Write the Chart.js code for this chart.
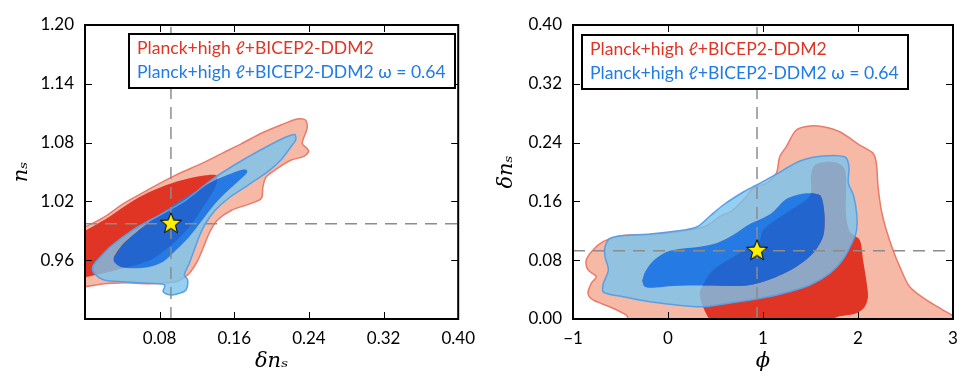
<!DOCTYPE html>
<html>
<head>
<meta charset="utf-8">
<script src="https://cdn.jsdelivr.net/npm/chart.js@4.4.0/dist/chart.umd.min.js"></script>
<style>
  html, body { margin: 0; padding: 0; background: #fff; }
  #wrap { position: relative; width: 969px; height: 382px; }
  .panel { position: absolute; top: 0; height: 382px; }
</style>
</head>
<body>
<div id="wrap">
  <div class="panel" style="left:0;width:484px"><canvas id="leftPanel" width="484" height="382"></canvas></div>
  <div class="panel" style="left:484px;width:485px"><canvas id="rightPanel" width="485" height="382"></canvas></div>
</div>
<script>
// ---- legend text ----
const legendLabels = ['Planck+high \u2113+BICEP2-DDM2', 'Planck+high \u2113+BICEP2-DDM2 \u03c9 = 0.64'];

// ---- left panel: delta n_s (x) vs n_s (y) ----
const dnsTicksL = [0, 0.08, 0.16, 0.24, 0.32, 0.40];
const dnsLabelsL = ['', '0.08', '0.16', '0.24', '0.32', '0.40'];
const nsTicks = [0.90, 0.96, 1.02, 1.08, 1.14, 1.20];
const nsLabels = ['', '0.96', '1.02', '1.08', '1.14', '1.20'];
const bestL = [0.0921, 0.9972];

const nsRedOuter = [
  [-0.01, 0.989], [0.0205, 1.004], [0.0416, 1.018], [0.0697, 1.033], [0.0977, 1.047],
  [0.1258, 1.059], [0.1468, 1.069], [0.1679, 1.079], [0.1889, 1.0895], [0.21, 1.098],
  [0.2276, 1.104], [0.2363, 1.103], [0.2381, 1.095], [0.2328, 1.079], [0.2381, 1.074],
  [0.2398, 1.071], [0.2345, 1.066], [0.2205, 1.062], [0.2065, 1.054], [0.1942, 1.045],
  [0.1907, 1.035], [0.1889, 1.023], [0.175, 1.017], [0.157, 1.011], [0.142, 1.001],
  [0.1338, 0.989], [0.1268, 0.973], [0.1199, 0.958], [0.1111, 0.946], [0.1005, 0.939],
  [0.0942, 0.9375], [0.0697, 0.936], [0.0416, 0.937], [0.0205, 0.936], [-0.01, 0.935]
];
const nsRedInner = [
  [-0.01, 0.985], [0.0205, 1.001], [0.0416, 1.0146], [0.0626, 1.0265], [0.0872, 1.0367],
  [0.1118, 1.0436], [0.1328, 1.0469], [0.1416, 1.0459], [0.1398, 1.035], [0.1293, 1.018],
  [0.1118, 0.994], [0.0907, 0.974], [0.0697, 0.960], [0.0416, 0.952], [0.0205, 0.947],
  [-0.01, 0.944]
];
const nsBlueOuter = [
  [0.0135, 0.9602], [0.0268, 0.9735], [0.0511, 0.9908], [0.0763, 1.0041], [0.1079, 1.0214],
  [0.1353, 1.0418], [0.1637, 1.0592], [0.1921, 1.0745], [0.2132, 1.0847], [0.2247, 1.0883],
  [0.2258, 1.0827], [0.2205, 1.0755], [0.21, 1.0622], [0.196, 1.0503], [0.1749, 1.0367],
  [0.1539, 1.0232], [0.1398, 1.0112], [0.1293, 0.9977], [0.1223, 0.984], [0.1171, 0.9704],
  [0.1118, 0.9568], [0.1065, 0.9449], [0.11, 0.9398], [0.1082, 0.9296], [0.1013, 0.9262],
  [0.0924, 0.9245], [0.0837, 0.9279], [0.0855, 0.9347], [0.0697, 0.9364], [0.0416, 0.9381],
  [0.0205, 0.9398], [0.01, 0.9466], [0.0082, 0.9534]
];
const nsBlueInner = [
  [0.0311, 0.9635], [0.0416, 0.9772], [0.0626, 0.9942], [0.0872, 1.0112], [0.1153, 1.0283],
  [0.1398, 1.0418], [0.1574, 1.0487], [0.1714, 1.0528], [0.1742, 1.0503], [0.1679, 1.0436],
  [0.1539, 1.0316], [0.1398, 1.0181], [0.1258, 1.001], [0.1118, 0.984], [0.0977, 0.9704],
  [0.0837, 0.9585], [0.0697, 0.9534], [0.0521, 0.9517], [0.0381, 0.9534], [0.0311, 0.9585]
];

// ---- right panel: phi (x) vs delta n_s (y) ----
const phiTicks = [-1, 0, 1, 2, 3];
const phiLabels = ['\u22121', '0', '1', '2', '3'];
const dnsTicksR = [0, 0.08, 0.16, 0.24, 0.32, 0.40];
const dnsLabelsR = ['0.00', '0.08', '0.16', '0.24', '0.32', '0.40'];
const bestR = [0.937, 0.0929];

const phiRedOuter = [
  [-0.42, -0.01], [-0.421, 0.0], [-0.439, 0.0054], [-0.614, 0.0167], [-0.789, 0.0259],
  [-0.842, 0.035], [-0.807, 0.0486], [-0.755, 0.0576], [-0.842, 0.0667], [-0.86, 0.0803],
  [-0.789, 0.0939], [-0.684, 0.1052], [-0.544, 0.112], [-0.403, 0.1143], [-0.228, 0.1143],
  [-0.018, 0.1166], [0.228, 0.1211], [0.403, 0.1265], [0.544, 0.1392], [0.684, 0.1483],
  [0.824, 0.1664], [0.895, 0.1778], [1.035, 0.1846], [1.14, 0.1982], [1.176, 0.2208],
  [1.245, 0.2344], [1.351, 0.2571], [1.492, 0.2626], [1.632, 0.2616], [1.807, 0.2548],
  [2.018, 0.2367], [2.158, 0.2254], [2.193, 0.2118], [2.211, 0.18], [2.245, 0.1483],
  [2.298, 0.1211], [2.368, 0.0939], [2.439, 0.0712], [2.544, 0.0439], [2.719, 0.0259],
  [2.895, 0.0122], [3.0, 0.004], [3.07, -0.01]
];
const phiRedInner = [
  [0.474, -0.01], [0.368, 0.0167], [0.334, 0.0354], [0.368, 0.0463], [0.474, 0.0667],
  [0.755, 0.0898], [0.965, 0.1075], [1.0, 0.1211], [1.242, 0.1442], [1.453, 0.1619],
  [1.505, 0.1714], [1.505, 0.1959], [1.547, 0.2095], [1.653, 0.2136], [1.789, 0.2122],
  [1.863, 0.2027], [1.874, 0.1755], [1.874, 0.1415], [1.916, 0.1184], [2.018, 0.1075],
  [2.053, 0.0803], [2.087, 0.0531], [2.105, 0.0303], [2.071, 0.0167], [1.982, 0.0078],
  [1.772, 0.0023], [1.6, -0.01]
];
const phiBlueOuter = [
  [-0.681, 0.0486], [-0.628, 0.0667], [-0.663, 0.0848], [-0.663, 0.0984], [-0.611, 0.1098],
  [-0.471, 0.1136], [-0.189, 0.1156], [0.092, 0.1197], [0.302, 0.1252], [0.442, 0.1401],
  [0.582, 0.1551], [0.793, 0.1728], [0.934, 0.1823], [1.144, 0.1973], [1.389, 0.215],
  [1.635, 0.2218], [1.863, 0.2204], [1.905, 0.2068], [1.898, 0.185], [1.951, 0.1687],
  [1.986, 0.1438], [1.986, 0.1211], [1.951, 0.1075], [1.845, 0.0816], [1.705, 0.0622],
  [1.495, 0.0463], [1.214, 0.035], [0.934, 0.0272], [0.653, 0.0218], [0.372, 0.0167],
  [0.092, 0.019], [-0.189, 0.0235], [-0.471, 0.0303], [-0.681, 0.0367]
];
const phiBlueInner = [
  [-0.274, 0.0517], [-0.242, 0.0639], [-0.158, 0.0789], [-0.018, 0.0912], [0.158, 0.0959],
  [0.334, 0.0984], [0.508, 0.103], [0.684, 0.1143], [0.86, 0.1293], [1.0, 0.1374],
  [1.105, 0.1456], [1.245, 0.1633], [1.456, 0.171], [1.597, 0.1687], [1.632, 0.1574],
  [1.649, 0.1347], [1.632, 0.112], [1.526, 0.0894], [1.351, 0.0712], [1.105, 0.0554],
  [0.895, 0.0469], [0.755, 0.0449], [0.403, 0.0456], [0.053, 0.0449], [-0.123, 0.0429],
  [-0.242, 0.0435]
];

// ---- colours ----
const RED_OUT = '#F5B9A6';
const RED_LINE = '#EB7A6C';
const RED_IN = '#E03424';
const BLUE_OUT = 'rgba(120,196,238,0.8)';
const BLUE_LINE = '#5A9FE6';
const BLUE_IN = 'rgba(0,111,237,0.85)';
const DASH = '#8C8C8C';
const legendColors = ['#E03424', '#1F7BE6'];

const toPts = arr => arr.map(([x, y]) => ({ x, y }));
const closeLoop = arr => arr.concat([arr[0]]);
// outer contour with the inner region cut out, so the 68% fill is not stacked on the 95% fill
const ring = (outer, inner) => closeLoop(outer).concat(closeLoop(inner.slice().reverse()));

function makeStar(size) {
  const c = document.createElement('canvas');
  c.width = c.height = size;
  const g = c.getContext('2d');
  const R = 11, r = R * 0.42, cx = size / 2, cy = size / 2;
  g.beginPath();
  for (let i = 0; i < 10; i++) {
    const a = -Math.PI / 2 + i * Math.PI / 5;
    const rr = i % 2 ? r : R;
    g.lineTo(cx + rr * Math.cos(a), cy + rr * Math.sin(a));
  }
  g.closePath();
  g.fillStyle = '#FFF000';
  g.fill();
  g.lineWidth = 1;
  g.strokeStyle = '#000';
  g.stroke();
  return c;
}
const starImg = makeStar(26);

// frame, inward ticks on all four sides, and the boxed legend
const frameAndLegend = {
  id: 'frameAndLegend',
  afterDatasetsDraw(chart, args, opts) {
    const { ctx, chartArea: a, scales: { x, y } } = chart;
    ctx.save();
    ctx.strokeStyle = '#000';
    ctx.lineWidth = 1;
    ctx.beginPath();
    x.ticks.forEach(t => {
      const px = Math.round(x.getPixelForValue(t.value)) + 0.5;
      ctx.moveTo(px, a.bottom); ctx.lineTo(px, a.bottom - 7);
      ctx.moveTo(px, a.top); ctx.lineTo(px, a.top + 7);
    });
    y.ticks.forEach(t => {
      const py = Math.round(y.getPixelForValue(t.value)) + 0.5;
      ctx.moveTo(a.left, py); ctx.lineTo(a.left + 7, py);
      ctx.moveTo(a.right, py); ctx.lineTo(a.right - 7, py);
    });
    ctx.stroke();
    ctx.lineWidth = 2;
    ctx.strokeRect(a.left, a.top, a.width, a.height);

    const b = opts.box;
    ctx.fillStyle = '#fff';
    ctx.fillRect(b.x, b.y, b.w, b.h);
    ctx.strokeRect(b.x, b.y, b.w, b.h);
    ctx.font = '17.6px Lato, "DejaVu Sans", sans-serif';
    ctx.textBaseline = 'middle';
    legendLabels.forEach((txt, i) => {
      ctx.fillStyle = legendColors[i];
      ctx.fillText(txt, b.x + 8, b.y + 14 + i * 24);
    });
    ctx.restore();
  }
};

function contourSets(c) {
  const line = (data, order) => ({
    data, order, fill: false, tension: 0, borderColor: DASH, borderWidth: 1.5, borderDash: [12, 8]
  });
  return [
    { data: [{ x: c.best[0], y: c.best[1] }], order: 0, showLine: false,
      pointStyle: starImg, pointRadius: 11, pointHoverRadius: 11 },
    line([{ x: c.best[0], y: c.yRange[0] }, { x: c.best[0], y: c.yRange[1] }], 1),
    line([{ x: c.xRange[0], y: c.best[1] }, { x: c.xRange[1], y: c.best[1] }], 1),
    { data: toPts(closeLoop(c.blueOuter)), order: 2, fill: false, borderColor: BLUE_LINE, borderWidth: 1.5 },
    { data: toPts(closeLoop(c.blueInner)), order: 3, fill: 'shape', backgroundColor: BLUE_IN, borderWidth: 0 },
    { data: toPts(ring(c.blueOuter, c.blueInner)), order: 4, fill: 'shape', backgroundColor: BLUE_OUT, borderWidth: 0 },
    { data: toPts(closeLoop(c.redInner)), order: 5, fill: 'shape', backgroundColor: RED_IN, borderWidth: 0 },
    { data: toPts(closeLoop(c.redOuter)), order: 6, fill: 'shape', backgroundColor: RED_OUT,
      borderColor: RED_LINE, borderWidth: 1.5 }
  ];
}

function makePanel(canvasId, c) {
  const tickFont = { family: 'Lato', size: 17 };
  const titleFont = { family: '"DejaVu Serif"', style: 'italic', size: 21 };
  return new Chart(document.getElementById(canvasId), {
    type: 'line',
    data: { datasets: contourSets(c) },
    options: {
      responsive: false,
      animation: false,
      events: [],
      layout: { padding: { top: 25, right: c.padRight, bottom: 0, left: 0 } },
      elements: { point: { radius: 0, hoverRadius: 0 }, line: { tension: 0.3, capBezierPoints: true } },
      plugins: { legend: { display: false }, tooltip: { enabled: false }, frameAndLegend: { box: c.legendBox } },
      scales: {
        x: {
          type: 'linear', min: c.xRange[0], max: c.xRange[1],
          grid: { display: false, drawTicks: false }, border: { display: false },
          afterBuildTicks: s => { s.ticks = c.xTicks.map(v => ({ value: v })); },
          afterFit: s => { s.height = 63; },
          ticks: { autoSkip: false, maxRotation: 0, padding: 9, color: '#000', font: tickFont,
                   callback: (v, i) => c.xLabels[i] },
          title: { display: true, text: c.xTitle, color: '#000', font: titleFont, padding: { top: 0, bottom: 8 } }
        },
        y: {
          type: 'linear', min: c.yRange[0], max: c.yRange[1],
          grid: { display: false, drawTicks: false }, border: { display: false },
          afterBuildTicks: s => { s.ticks = c.yTicks.map(v => ({ value: v })); },
          afterFit: s => { s.width = c.yAxisWidth; },
          ticks: { autoSkip: false, padding: 11, color: '#000', font: tickFont,
                   callback: (v, i) => c.yLabels[i] },
          title: { display: true, text: c.yTitle, color: '#000', font: titleFont, padding: { top: c.yTitlePad, bottom: 0 } }
        }
      }
    },
    plugins: [frameAndLegend]
  });
}

makePanel('leftPanel', {
  xRange: [0, 0.40], yRange: [0.90, 1.20],
  xTicks: dnsTicksL, xLabels: dnsLabelsL, yTicks: nsTicks, yLabels: nsLabels,
  xTitle: '\u03b4n\u209b', yTitle: 'n\u209b',
  best: bestL, redOuter: nsRedOuter, redInner: nsRedInner, blueOuter: nsBlueOuter, blueInner: nsBlueInner,
  yAxisWidth: 85, padRight: 20, yTitlePad: 9,
  legendBox: { x: 129, y: 34, w: 326, h: 54 }
});

makePanel('rightPanel', {
  xRange: [-1, 3], yRange: [0, 0.40],
  xTicks: phiTicks, xLabels: phiLabels, yTicks: dnsTicksR, yLabels: dnsLabelsR,
  xTitle: '\u03d5', yTitle: '\u03b4n\u209b',
  best: bestR, redOuter: phiRedOuter, redInner: phiRedInner, blueOuter: phiBlueOuter, blueInner: phiBlueInner,
  yAxisWidth: 89, padRight: 16, yTitlePad: 10,
  legendBox: { x: 98, y: 35, w: 326, h: 54 }
});
</script>
</body>
</html>
